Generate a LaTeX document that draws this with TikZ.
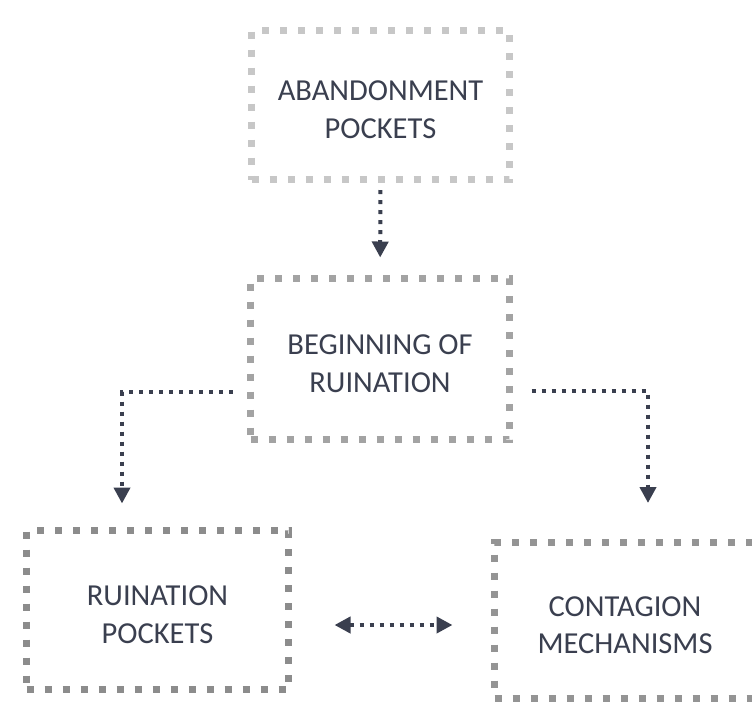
\documentclass[tikz,border=0pt]{standalone}
\usepackage{fontspec}
\setmainfont{Carlito}
\usetikzlibrary{arrows.meta}
\definecolor{inkslate}{HTML}{3A3F4F}
\begin{document}
\begin{tikzpicture}[x=1pt,y=-1pt,
    boxlbl/.style={align=center,text=inkslate,text height=66pt,text depth=0pt,
      font=\fontsize{30.5}{37.5}\selectfont},
    box/.style={draw=#1,line width=7pt,dash pattern=on 7pt off 11pt,
      inner sep=0pt,outer sep=0pt,boxlbl},
    link/.style={draw=inkslate,line width=4pt,dash pattern=on 4pt off 6pt,
      -{Triangle[width=16pt,length=16pt]}}]
  \useasboundingbox (0,0) rectangle (752,707);
  \node[box=black!22,minimum width=258pt,minimum height=149pt] (abandon) at (380.5,105) {ABANDONMENT\\POCKETS};
  \node[box=black!36,minimum width=259pt,minimum height=161pt] (beginning) at (380,359) {BEGINNING OF\\RUINATION};
  \node[box=black!45,minimum width=262pt,minimum height=159pt] (ruinpock) at (157.5,610) {RUINATION\\POCKETS};
  \node[box=black!42,minimum width=285pt,minimum height=156pt,
    label={[boxlbl,xshift=-12pt]center:CONTAGION\\MECHANISMS}] (contagion) at (637,620.5) {};
  \draw[link,shorten <=10.5pt,shorten >=21pt] (abandon) -- (beginning);
  \draw[link] ([xshift=-18pt,yshift=-33pt]beginning.west) -| ([xshift=-35.5pt,yshift=27pt]ruinpock.north);
  \draw[link] ([xshift=22pt,yshift=-32pt]beginning.east) -| ([xshift=11pt,yshift=39.5pt]contagion.north);
  \draw[link,{Triangle[width=16pt,length=16pt]}-{Triangle[width=16pt,length=16pt]}] ([xshift=46pt,yshift=-15pt]ruinpock.east) -- ([xshift=-42pt,yshift=-4.5pt]contagion.west);
\end{tikzpicture}
\end{document}
